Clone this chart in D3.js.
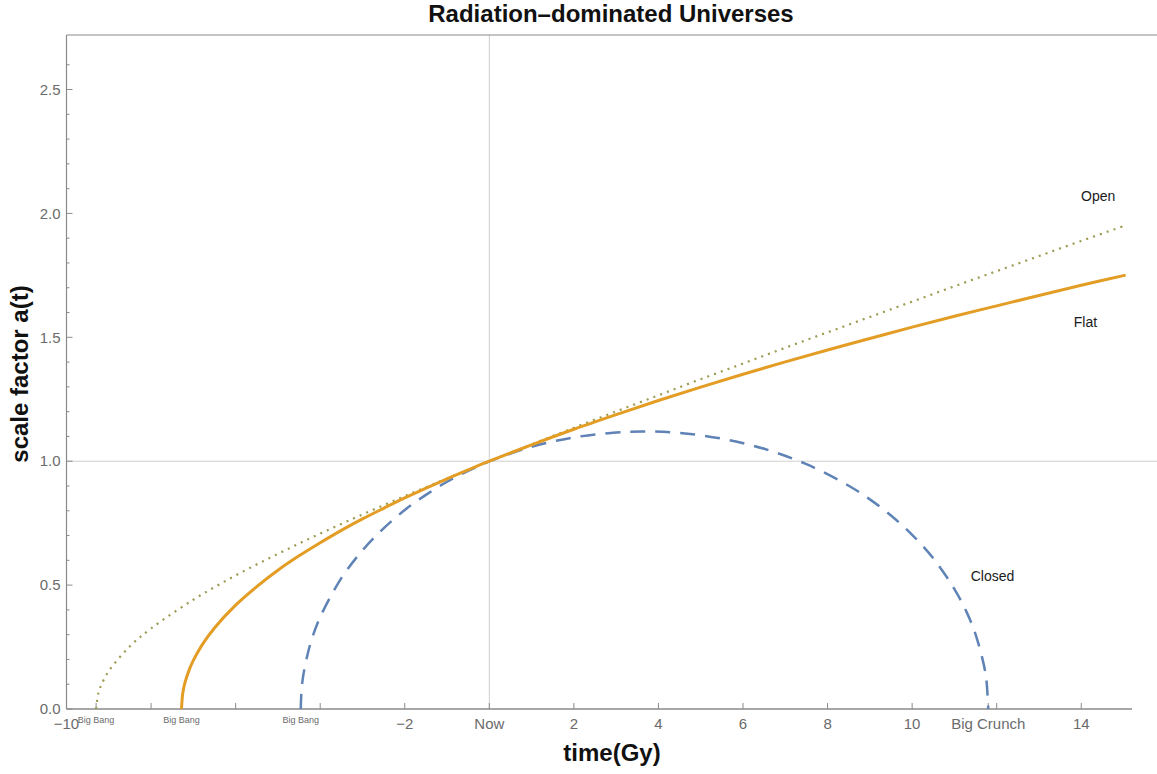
<!DOCTYPE html>
<html>
<head>
<meta charset="utf-8">
<script src="https://cdn.jsdelivr.net/npm/d3@7"></script>
<style>
  html, body { margin: 0; padding: 0; background: #fff; }
  svg { display: block; font-family: Arial, 'Liberation Sans', sans-serif; }
</style>
</head>
<body>
<div id="chart"></div>
<script>
// Radiation-dominated universes: scale factor vs time

const openT = [-9.3, -9.25, -9.2, -9.0, -8.5, -8, -7, -6, -5, -4, -3, -2, -1, 0, 1, 2, 3, 4, 5, 6, 7, 8, 9, 10, 11, 12, 13, 14, 15.05];
const openA = [0, 0.062, 0.088, 0.153, 0.253, 0.325, 0.441, 0.539, 0.626, 0.708, 0.785, 0.859, 0.930, 1.000, 1.068, 1.135, 1.201, 1.266, 1.331, 1.394, 1.458, 1.520, 1.582, 1.644, 1.706, 1.767, 1.828, 1.889, 1.952];

const flatT = [-7.28, -7.25, -7.2, -7.1, -7.0, -6.8, -6.5, -6, -5.5, -5, -4.5, -4, -3.5, -3, -2.5, -2, -1.5, -1, -0.5, 0, 1, 2, 3, 4, 5, 6, 7, 8, 9, 10, 11, 12, 13, 14, 15.05];
const flatA = [0, 0.064, 0.105, 0.157, 0.196, 0.257, 0.327, 0.419, 0.494, 0.560, 0.618, 0.671, 0.721, 0.767, 0.810, 0.852, 0.891, 0.929, 0.965, 1.000, 1.066, 1.129, 1.188, 1.245, 1.299, 1.351, 1.401, 1.449, 1.495, 1.541, 1.585, 1.627, 1.669, 1.710, 1.751];

const closedT = [-4.46, -4.44, -4.4, -4.3, -4.2, -4, -3.5, -3, -2.5, -2, -1.5, -1, -0.5, 0, 1, 2, 3, 3.67, 4.5, 5.5, 6.5, 7.5, 8.5, 9, 9.5, 10, 10.5, 11, 11.3, 11.5, 11.7, 11.76, 11.8];
const closedA = [0, 0.079, 0.136, 0.219, 0.281, 0.371, 0.528, 0.640, 0.729, 0.803, 0.864, 0.917, 0.961, 0.999, 1.058, 1.096, 1.116, 1.120, 1.114, 1.091, 1.050, 0.988, 0.901, 0.846, 0.781, 0.703, 0.608, 0.484, 0.387, 0.301, 0.175, 0.111, 0];

const xTicks = [-10, -8, -6, -4, -2, 0, 2, 4, 6, 8, 10, 12, 14];
const xTickLabels = ['\u221210', '', '', '', '\u22122', 'Now', '2', '4', '6', '8', '10', '', '14'];
const bigBangT = [-9.3, -7.28, -4.46];
const bigCrunchT = 11.8;
const yMajor = [0, 0.5, 1.0, 1.5, 2.0, 2.5];

const width = 1157, height = 774;
const svg = d3.select('#chart').append('svg')
  .attr('width', width)
  .attr('height', height);

const x = d3.scaleLinear().domain([-10, 15.2]).range([66.5, 1132]);
const y = d3.scaleLinear().domain([0, 2.72]).range([709, 35]);

const axisColor = '#8a8a8a';
const labelColor = '#6b6b6b';

// grid lines through "now" and a = 1
svg.append('line')
  .attr('x1', x(0)).attr('x2', x(0))
  .attr('y1', y(2.72)).attr('y2', y(0))
  .attr('stroke', '#cfcfcf').attr('stroke-width', 1);
svg.append('line')
  .attr('x1', x(-10)).attr('x2', width)
  .attr('y1', y(1)).attr('y2', y(1))
  .attr('stroke', '#cfcfcf').attr('stroke-width', 1);

// frame: left, bottom, top
svg.append('line')
  .attr('x1', x(-10)).attr('x2', x(-10))
  .attr('y1', y(2.72)).attr('y2', y(0))
  .attr('stroke', axisColor).attr('stroke-width', 1.2);
svg.append('line')
  .attr('x1', x(-10)).attr('x2', x(15.2))
  .attr('y1', y(0)).attr('y2', y(0))
  .attr('stroke', axisColor).attr('stroke-width', 1.5);
svg.append('line')
  .attr('x1', x(-10)).attr('x2', width)
  .attr('y1', y(2.72)).attr('y2', y(2.72))
  .attr('stroke', axisColor).attr('stroke-width', 1.2);

// y ticks (major + minor, pointing inward)
const yMinor = d3.range(0, 27).map(i => i / 10).filter(v => !yMajor.some(m => Math.abs(m - v) < 1e-6));
svg.append('g').selectAll('line.minor')
  .data(yMinor).join('line')
  .attr('x1', x(-10)).attr('x2', x(-10) + 3)
  .attr('y1', d => y(d)).attr('y2', d => y(d))
  .attr('stroke', axisColor).attr('stroke-width', 1);
svg.append('g').selectAll('line.major')
  .data(yMajor).join('line')
  .attr('x1', x(-10)).attr('x2', x(-10) + 6)
  .attr('y1', d => y(d)).attr('y2', d => y(d))
  .attr('stroke', axisColor).attr('stroke-width', 1);
svg.append('g').selectAll('text')
  .data(yMajor).join('text')
  .attr('x', x(-10) - 6)
  .attr('y', d => y(d))
  .attr('dy', '0.35em')
  .attr('text-anchor', 'end')
  .attr('fill', labelColor)
  .attr('font-size', 15)
  .text(d => d.toFixed(1));

// x ticks
svg.append('g').selectAll('line')
  .data(xTicks.concat(bigBangT, [bigCrunchT])).join('line')
  .attr('x1', d => x(d)).attr('x2', d => x(d))
  .attr('y1', y(0)).attr('y2', y(0) - 6)
  .attr('stroke', axisColor).attr('stroke-width', 1);
svg.append('g').selectAll('text')
  .data(xTicks).join('text')
  .attr('x', d => x(d))
  .attr('y', y(0) + 20)
  .attr('text-anchor', 'middle')
  .attr('fill', labelColor)
  .attr('font-size', 15)
  .text((d, i) => xTickLabels[i]);
svg.append('g').selectAll('text')
  .data(bigBangT).join('text')
  .attr('x', d => x(d))
  .attr('y', y(0) + 14)
  .attr('text-anchor', 'middle')
  .attr('fill', labelColor)
  .attr('font-size', 9)
  .text('Big Bang');
svg.append('text')
  .attr('x', x(bigCrunchT))
  .attr('y', y(0) + 20)
  .attr('text-anchor', 'middle')
  .attr('fill', labelColor)
  .attr('font-size', 15)
  .text('Big Crunch');

// curves
const line = d3.line()
  .x(d => x(d[0]))
  .y(d => y(d[1]))
  .curve(d3.curveCatmullRom);

svg.append('path')
  .datum(closedT.map((t, i) => [t, closedA[i]]))
  .attr('d', line)
  .attr('fill', 'none')
  .attr('stroke', '#5f83b6')
  .attr('stroke-width', 2.5)
  .attr('stroke-dasharray', '15,10');

svg.append('path')
  .datum(openT.map((t, i) => [t, openA[i]]))
  .attr('d', line)
  .attr('fill', 'none')
  .attr('stroke', '#9c9a4e')
  .attr('stroke-width', 2.2)
  .attr('stroke-dasharray', '2,5.2');

svg.append('path')
  .datum(flatT.map((t, i) => [t, flatA[i]]))
  .attr('d', line)
  .attr('fill', 'none')
  .attr('stroke', '#e39d25')
  .attr('stroke-width', 3);

// curve labels
const curveLabels = [
  { text: 'Open', t: 14.4, a: 2.07 },
  { text: 'Flat', t: 14.1, a: 1.56 },
  { text: 'Closed', t: 11.9, a: 0.535 },
];
svg.append('g').selectAll('text')
  .data(curveLabels).join('text')
  .attr('x', d => x(d.t))
  .attr('y', d => y(d.a))
  .attr('dy', '0.35em')
  .attr('text-anchor', 'middle')
  .attr('fill', '#1a1a1a')
  .attr('font-size', 14)
  .text(d => d.text);

// title and axis labels
svg.append('text')
  .attr('x', 611).attr('y', 22)
  .attr('text-anchor', 'middle')
  .attr('font-weight', 'bold')
  .attr('font-size', 24)
  .attr('fill', '#111')
  .text('Radiation\u2013dominated Universes');

svg.append('text')
  .attr('x', 612).attr('y', 761)
  .attr('text-anchor', 'middle')
  .attr('font-weight', 'bold')
  .attr('font-size', 24)
  .attr('fill', '#111')
  .text('time(Gy)');

svg.append('text')
  .attr('transform', 'translate(28, 374) rotate(-90)')
  .attr('text-anchor', 'middle')
  .attr('font-weight', 'bold')
  .attr('font-size', 24)
  .attr('fill', '#111')
  .text('scale factor a(t)');
</script>
</body>
</html>
